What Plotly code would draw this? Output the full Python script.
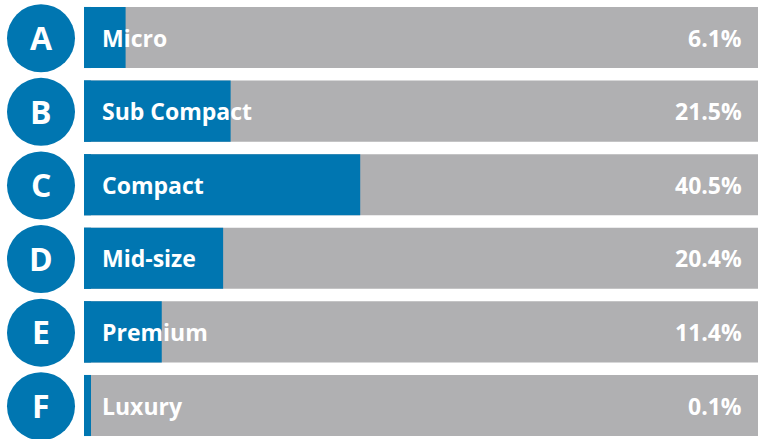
import plotly.graph_objects as go

# Segment shares
letters = ["A", "B", "C", "D", "E", "F"]
segments = ["Micro", "Sub Compact", "Compact", "Mid-size", "Premium", "Luxury"]
shares = [6.1, 21.5, 40.5, 20.4, 11.4, 0.1]
track = [100, 100, 100, 100, 100, 100]

BLUE = "#0076B1"
GREY = "#B0B0B2"
FONT = "Open Sans"

W, H = 758, 439
ML = 84
PLOT_W = W - ML
PX_PER_PCT = 6.82
X_MAX = PLOT_W / PX_PER_PCT

ROW = 73.6
Y_TOP = -37.5 / ROW
Y_BOT = Y_TOP + H / ROW

ypos = list(range(len(segments)))

fig = go.Figure()
fig.add_trace(go.Bar(
    y=ypos, x=track, orientation="h", marker=dict(color=GREY, line=dict(width=0)),
    width=0.83, hoverinfo="skip", showlegend=False,
))
fig.add_trace(go.Bar(
    y=ypos, x=shares, orientation="h", marker=dict(color=BLUE, line=dict(width=0)),
    width=0.83, showlegend=False,
))

shapes = []
annotations = []
for i, (letter, name, val) in enumerate(zip(letters, segments, shares)):
    # narrow blue accent on the left edge of each track
    shapes.append(dict(
        type="rect", xref="paper", yref="y", xsizemode="pixel", xanchor=0,
        x0=0, x1=7, y0=i - 0.415, y1=i + 0.415,
        fillcolor=BLUE, line=dict(width=0), layer="above",
    ))
    # round letter badge
    shapes.append(dict(
        type="circle", xref="paper", yref="y", xsizemode="pixel", ysizemode="pixel",
        xanchor=(41 - ML) / PLOT_W, yanchor=i + 0.01, x0=-34, x1=34, y0=-34, y1=34,
        fillcolor=BLUE, line=dict(width=0), layer="above",
    ))
    annotations.append(dict(
        x=(41 - ML) / PLOT_W, xref="paper", y=i, yref="y", text=f"<b>{letter}</b>",
        showarrow=False, font=dict(family=FONT, size=32, color="white"),
        xanchor="center", yanchor="middle",
    ))
    annotations.append(dict(
        x=(100 - ML) / PLOT_W, xref="paper", y=i, yref="y", text=f"<b>{name}</b>",
        showarrow=False, font=dict(family=FONT, size=23, color="white"),
        xanchor="left", yanchor="middle",
    ))
    annotations.append(dict(
        x=(744 - ML) / PLOT_W, xref="paper", y=i, yref="y", text=f"<b>{val:.1f}%</b>",
        showarrow=False, font=dict(family=FONT, size=23, color="white"),
        xanchor="right", yanchor="middle",
    ))

fig.update_layout(
    width=W, height=H,
    margin=dict(l=ML, r=0, t=0, b=0),
    paper_bgcolor="white", plot_bgcolor="white",
    barmode="overlay",
    xaxis=dict(range=[0, X_MAX], visible=False, fixedrange=True),
    yaxis=dict(range=[Y_BOT, Y_TOP], visible=False, fixedrange=True),
    shapes=shapes, annotations=annotations,
    font=dict(family=FONT),
)

fig.write_html("out.html", config={"displayModeBar": False})
